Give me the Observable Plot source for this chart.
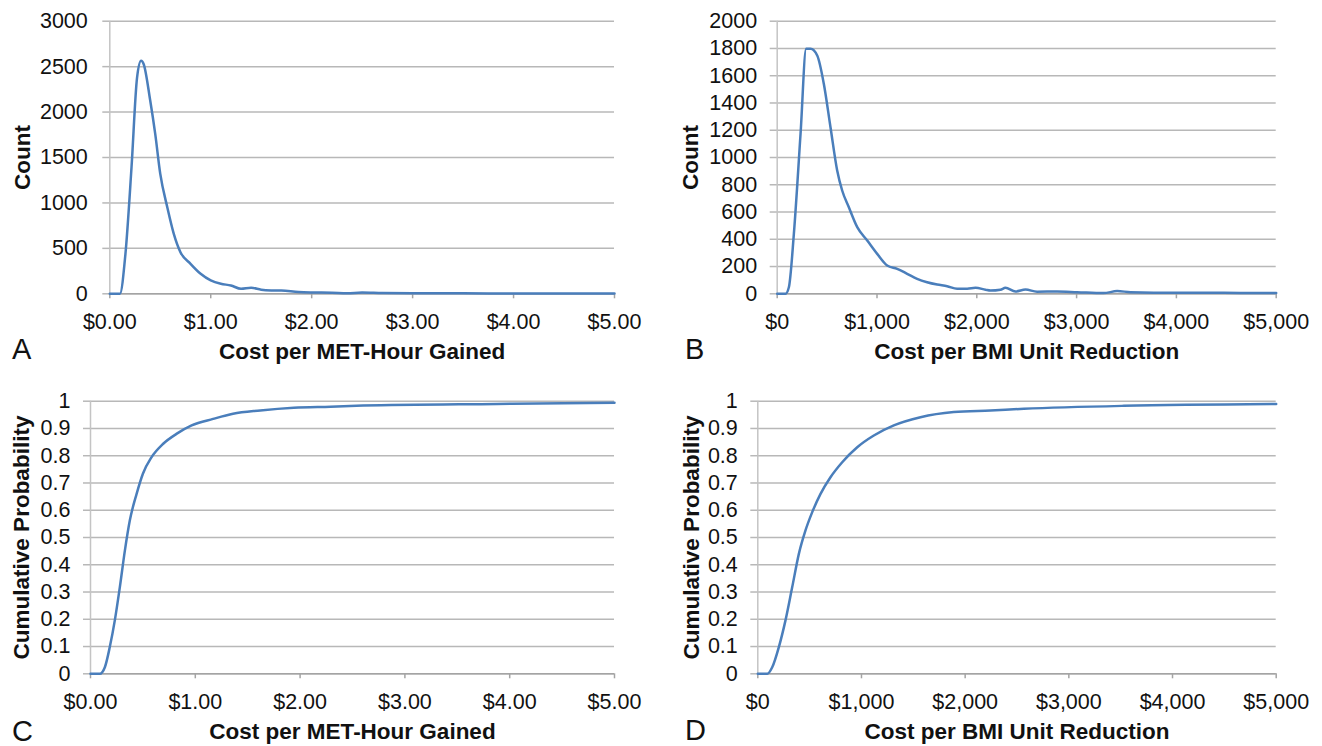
<!DOCTYPE html>
<html>
<head>
<meta charset="utf-8">
<script src="https://cdn.jsdelivr.net/npm/d3@7"></script>
<script src="https://cdn.jsdelivr.net/npm/@observablehq/plot@0.6"></script>
<style>
  html, body { margin: 0; padding: 0; background: #fff; }
  #wrap { position: relative; width: 1322px; height: 746px; background: #fff; overflow: hidden; }
  .panel { position: absolute; width: 661px; height: 370px; }
  .panel svg { max-width: none !important; }
  .panel svg text { font-family: "Liberation Sans", Arial, sans-serif; font-size: 21.5px; fill: #111; }
  .panel svg g[aria-label$="axis label"] text { font-weight: bold; font-size: 22.5px; }
  .letter { position: absolute; font-family: "Liberation Sans", Arial, sans-serif; font-size: 29px; line-height: 29px; color: #111; }
</style>
</head>
<body>
<div id="wrap">
  <div class="panel" id="pA" style="left:0px;top:0px"></div>
  <div class="panel" id="pB" style="left:661px;top:0px"></div>
  <div class="panel" id="pC" style="left:0px;top:376px"></div>
  <div class="panel" id="pD" style="left:661px;top:376px"></div>
  <div class="letter" style="left:12px;top:335px">A</div>
  <div class="letter" style="left:685px;top:335px">B</div>
  <div class="letter" style="left:12px;top:717px">C</div>
  <div class="letter" style="left:685px;top:716px">D</div>
</div>
<script>
// ---- Data ----
// Panel A: count vs cost per MET-hour gained
const metX = [0, 0.10, 0.155, 0.215, 0.27, 0.31, 0.335, 0.40, 0.45, 0.50, 0.57, 0.634, 0.70, 0.80, 0.90, 1.0, 1.1, 1.2, 1.3, 1.4, 1.5, 1.6, 1.7, 1.87, 2.0, 2.2, 2.35, 2.5, 2.7, 3.0, 3.5, 4.0, 4.5, 5.0];
const metCount = [0, 0, 440, 1390, 2380, 2565, 2530, 2130, 1760, 1320, 950, 660, 458, 330, 220, 147, 110, 92, 55, 66, 45, 37, 35, 20, 15, 12, 5, 15, 8, 5, 5, 3, 3, 2];

// Panel B: count vs cost per BMI unit reduction
const bmiX = [0, 83, 117, 167, 234, 290, 334, 401, 467, 534, 601, 651, 718, 802, 902, 1002, 1102, 1202, 1302, 1402, 1502, 1603, 1703, 1803, 1904, 1987, 2087, 2137, 2237, 2287, 2388, 2488, 2604, 2805, 3006, 3270, 3407, 3540, 4008, 4475, 4810, 5000];
const bmiCount = [0, 0, 48, 440, 1174, 1797, 1797, 1748, 1541, 1222, 905, 758, 635, 489, 391, 293, 208, 183, 147, 110, 85, 68, 56, 37, 37, 44, 30, 24, 30, 44, 17, 31, 15, 17, 12, 5, 20, 12, 7, 7, 5, 6];

// Panel C: cumulative probability vs cost per MET-hour gained
const cdfMetX = [0, 0.089, 0.137, 0.184, 0.232, 0.28, 0.328, 0.375, 0.44, 0.50, 0.583, 0.694, 0.82, 0.965, 1.17, 1.36, 1.62, 1.94, 2.29, 2.60, 3.88, 5.0];
const cdfMetP = [0, 0, 0.024, 0.098, 0.196, 0.318, 0.452, 0.562, 0.66, 0.734, 0.795, 0.844, 0.880, 0.911, 0.935, 0.954, 0.966, 0.976, 0.980, 0.984, 0.990, 0.994];

// Panel D: cumulative probability vs cost per BMI unit reduction
const cdfBmiX = [0, 91, 139, 203, 267, 332, 396, 460, 525, 605, 701, 814, 959, 1119, 1312, 1569, 1890, 2244, 2566, 3530, 5000];
const cdfBmiP = [0, 0, 0.024, 0.098, 0.196, 0.318, 0.44, 0.526, 0.593, 0.66, 0.721, 0.776, 0.831, 0.874, 0.911, 0.941, 0.960, 0.966, 0.972, 0.983, 0.990];

// Tick values
const metTicks = [0, 1, 2, 3, 4, 5];
const bmiTicks = [0, 1000, 2000, 3000, 4000, 5000];
const countTicksA = [0, 500, 1000, 1500, 2000, 2500, 3000];
const countTicksB = [0, 200, 400, 600, 800, 1000, 1200, 1400, 1600, 1800, 2000];
const probTicks = [0, 0.1, 0.2, 0.3, 0.4, 0.5, 0.6, 0.7, 0.8, 0.9, 1];

const xLabelMet = "Cost per MET-Hour Gained";
const xLabelBmi = "Cost per BMI Unit Reduction";
const yLabelCount = "Count";
const yLabelProb = "Cumulative Probability";

// ---- Styles ----
const LINE = "#4a7ebb";
const GRID = "#b8b8b8";
const AXIS = "#a4a4a4";

const fmtMet = d => "$" + d.toFixed(2);
const fmtBmi = d => "$" + d3.format(",")(d);
const fmtProb = d => String(+d.toFixed(1));
const fmtInt = d => String(d);

function zip(xs, ys) { return xs.map((x, i) => ({x, y: ys[i]})); }

function panel({xs, ys, xDomain, yDomain, xTicks, yTicks, xFmt, yFmt, xLabel, yLabel, m, yLabelOffset, xLabelOffset, yPad}) {
  const data = zip(xs, ys);
  return Plot.plot({
    width: 661,
    height: 370,
    marginLeft: m[0], marginRight: m[1], marginTop: m[2], marginBottom: m[3],
    style: {background: "transparent", overflow: "visible"},
    x: {domain: xDomain},
    y: {domain: yDomain},
    marks: [
      Plot.gridY(yTicks, {stroke: GRID, strokeOpacity: 1, strokeWidth: 1.5}),
      Plot.ruleX([xDomain[0]], {stroke: "#c4c4c4", strokeWidth: 1.5}),
      Plot.ruleY([yDomain[0]], {stroke: AXIS, strokeWidth: 1.5}),
      Plot.axisX(xTicks, {tickSize: 5, tickPadding: 15, stroke: AXIS, strokeWidth: 1.5, tickFormat: xFmt,
        label: xLabel, labelAnchor: "center", labelOffset: xLabelOffset, labelArrow: "none"}),
      Plot.axisY(yTicks, {tickSize: 7, tickPadding: yPad, stroke: GRID, strokeWidth: 1.5, tickFormat: yFmt,
        label: yLabel, labelAnchor: "center", labelOffset: yLabelOffset, labelArrow: "none"}),
      Plot.line(data, {x: "x", y: "y", stroke: LINE, strokeWidth: 2.5, curve: "monotone-x"})
    ]
  });
}

document.getElementById("pA").append(panel({
  xs: metX, ys: metCount, xDomain: [0, 5], yDomain: [0, 3000], xTicks: metTicks, yTicks: countTicksA,
  xFmt: fmtMet, yFmt: fmtInt, xLabel: xLabelMet, yLabel: yLabelCount,
  m: [109.3, 47, 20.7, 76.7], yLabelOffset: 96, xLabelOffset: 65, yPad: 15
}));
document.getElementById("pB").append(panel({
  xs: bmiX, ys: bmiCount, xDomain: [0, 5000], yDomain: [0, 2000], xTicks: bmiTicks, yTicks: countTicksB,
  xFmt: fmtBmi, yFmt: fmtInt, xLabel: xLabelBmi, yLabel: yLabelCount,
  m: [115.7, 46.3, 20.7, 76.7], yLabelOffset: 95, xLabelOffset: 65, yPad: 13
}));
document.getElementById("pC").append(panel({
  xs: cdfMetX, ys: cdfMetP, xDomain: [0, 5], yDomain: [0, 1], xTicks: metTicks, yTicks: probTicks,
  xFmt: fmtMet, yFmt: fmtProb, xLabel: xLabelMet, yLabel: yLabelProb,
  m: [90, 47, 24.7, 72.7], yLabelOffset: 77, xLabelOffset: 65, yPad: 13
}));
document.getElementById("pD").append(panel({
  xs: cdfBmiX, ys: cdfBmiP, xDomain: [0, 5000], yDomain: [0, 1], xTicks: bmiTicks, yTicks: probTicks,
  xFmt: fmtBmi, yFmt: fmtProb, xLabel: xLabelBmi, yLabel: yLabelProb,
  m: [96.3, 46.3, 24.7, 72.7], yLabelOffset: 75, xLabelOffset: 65, yPad: 13
}));
</script>
</body>
</html>
